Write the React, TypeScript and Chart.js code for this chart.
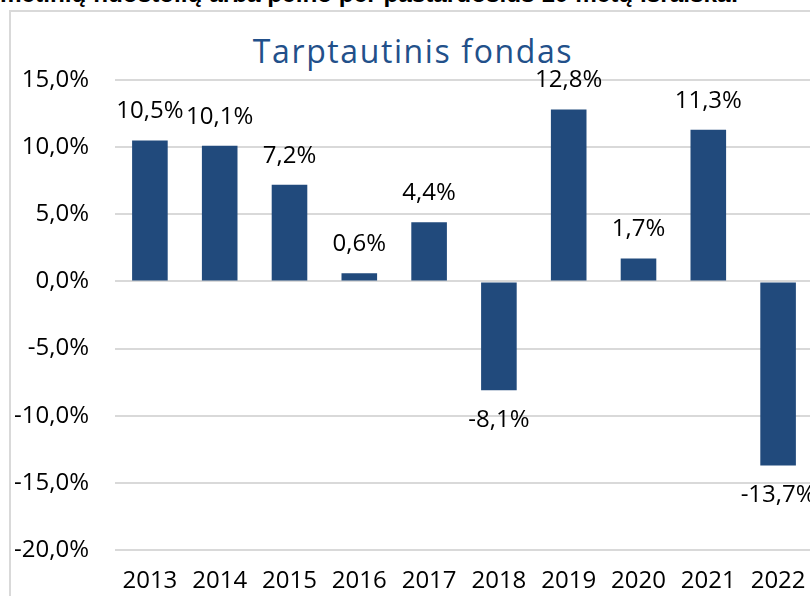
import React, { useEffect, useRef } from "react";
import { Chart, registerables } from "chart.js";

Chart.register(...registerables);

const years = ["2013", "2014", "2015", "2016", "2017", "2018", "2019", "2020", "2021", "2022"];
const returns = [10.5, 10.1, 7.2, 0.6, 4.4, -8.1, 12.8, 1.7, 11.3, -13.7];
const yMin = -20;
const yMax = 15;
const yStep = 5;
const chartTitle = "Tarptautinis fondas";
const headerText = "metinių nuostolių arba pelno per pastaruosius 10 metų išraiška:";

const fmt = (v: number) => v.toFixed(1).replace(".", ",") + "%";

const FONT = "'Open Sans', 'Noto Sans', sans-serif";

const valueLabels = {
  id: "valueLabels",
  afterDatasetsDraw(chart: any) {
    const ctx = chart.ctx;
    const meta = chart.getDatasetMeta(0);
    ctx.save();
    ctx.font = `24px ${FONT}`;
    ctx.fillStyle = "#000";
    ctx.textAlign = "center";
    ctx.textBaseline = "middle";
    meta.data.forEach((bar: any, i: number) => {
      const v = returns[i];
      const { x, y } = bar.getProps(["x", "y"], true);
      if (v >= 0) ctx.fillText(fmt(v), x, y - 29);
      else ctx.fillText(fmt(v), x, y + 30);
    });
    ctx.restore();
  },
};

export default function App() {
  const ref = useRef<HTMLCanvasElement | null>(null);

  useEffect(() => {
    if (!ref.current) return;
    const chart = new Chart(ref.current, {
      type: "bar",
      data: {
        labels: years,
        datasets: [
          {
            data: returns,
            backgroundColor: "#214a7c",
            barPercentage: 0.51,
            categoryPercentage: 1.0,
          },
        ],
      },
      options: {
        responsive: false,
        animation: false,
        devicePixelRatio: 1,
        layout: { padding: { top: 80, right: 13, left: 0, bottom: 0 } },
        plugins: {
          legend: { display: false },
          title: { display: false },
          tooltip: { enabled: false },
        },
        scales: {
          x: {
            grid: { display: false, drawTicks: false },
            border: { display: false },
            ticks: {
              color: "#000",
              font: { family: FONT, size: 24, lineHeight: 1.2 },
              padding: 17,
              maxRotation: 0,
              autoSkip: false,
            },
            afterFit: (s: any) => {
              s.height = 46;
            },
          },
          y: {
            min: yMin,
            max: yMax,
            grid: { color: "#d9d9d9", lineWidth: 2, drawTicks: false },
            border: { display: false },
            ticks: {
              stepSize: yStep,
              color: "#000",
              font: { family: FONT, size: 24 },
              padding: 26,
              callback: (v: any) => fmt(Number(v)),
            },
            afterFit: (s: any) => {
              s.width = 115;
            },
          },
        },
      },
      plugins: [valueLabels],
    });
    return () => chart.destroy();
  }, []);

  return (
    <div
      style={{
        position: "fixed",
        left: 0,
        top: 0,
        width: 810,
        height: 596,
        overflow: "hidden",
        background: "#fff",
      }}
    >
      <div
        style={{
          position: "absolute",
          left: 0,
          top: -18,
          whiteSpace: "nowrap",
          fontFamily: "'Liberation Sans', Arial, sans-serif",
          fontWeight: "bold",
          fontSize: 24.3,
          lineHeight: "24px",
          color: "#000",
        }}
      >
        {headerText}
      </div>
      <div
        style={{
          position: "absolute",
          left: 9,
          top: 10,
          width: 900,
          height: 700,
          borderLeft: "2px solid #d9d9d9",
          borderTop: "2px solid #d9d9d9",
        }}
      />
      <div
        style={{
          position: "absolute",
          left: 0,
          width: 826,
          top: 35,
          textAlign: "center",
          fontFamily: FONT,
          fontSize: 32,
          lineHeight: "32px",
          letterSpacing: 1.6,
          color: "#22508a",
          whiteSpace: "nowrap",
        }}
      >
        {chartTitle}
      </div>
      <canvas
        ref={ref}
        width={826}
        height={596}
        style={{ position: "absolute", left: 0, top: 0, width: 826, height: 596 }}
      />
    </div>
  );
}
